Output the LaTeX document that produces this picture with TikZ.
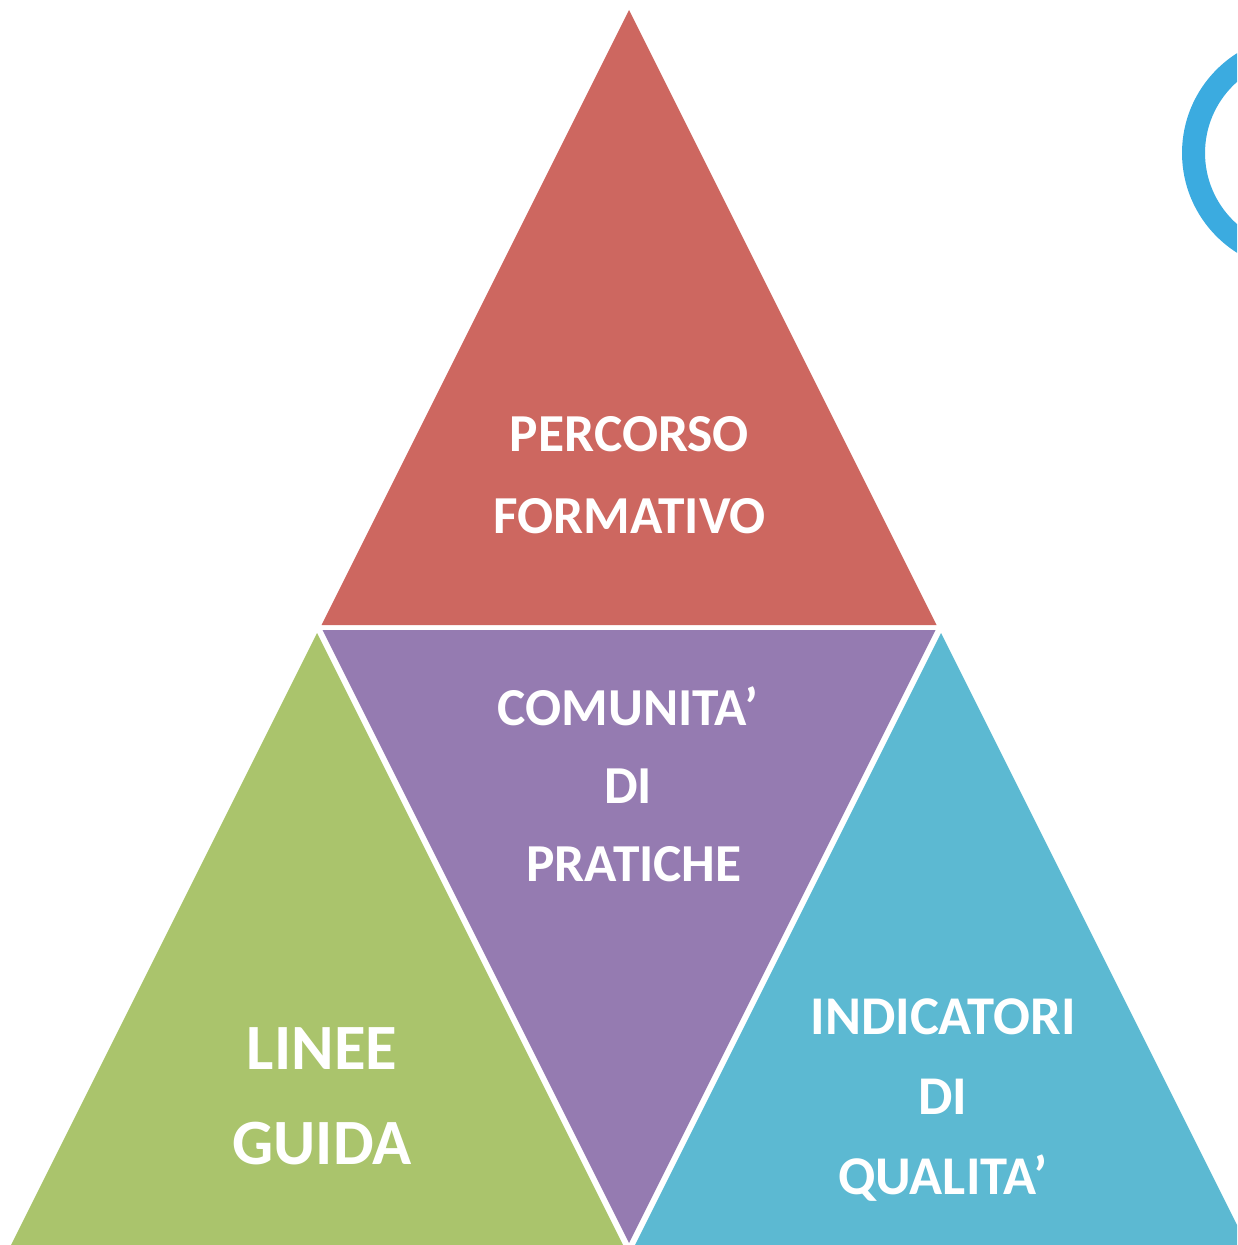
\documentclass[tikz,border=0pt]{standalone}
\usepackage{fontspec}
\setmainfont{Carlito}
\definecolor{percred}{RGB}{205, 103, 96}
\definecolor{compurple}{RGB}{149, 123, 177}
\definecolor{lineegreen}{RGB}{170, 196, 108}
\definecolor{indcyan}{RGB}{92, 185, 210}
\definecolor{ringblue}{RGB}{59, 171, 224}
\usetikzlibrary{positioning}

\tikzset{
  lbl/.style={text=white, align=center, inner sep=0pt, font=\bfseries}
}

\begin{document}
\begin{tikzpicture}[x=0.5pt, y=-0.5pt]
  \useasboundingbox (0, 0) rectangle (1237, 1245);
  \clip (0, 0) rectangle (1237, 1245);

  % Top triangle
  \fill[percred] (629, 10) -- (936.5, 625) -- (321.5, 625) -- cycle;
  % Inverted middle triangle
  \fill[compurple] (322.5, 630) -- (935.5, 630) -- (629, 1243) -- cycle;
  % Bottom left triangle
  \fill[lineegreen] (317, 633) -- (623, 1245) -- (11, 1245) -- cycle;
  % Bottom right triangle
  \fill[indcyan] (941, 633) -- (1247, 1245) -- (635, 1245) -- cycle;

  % Ring at the edge
  \draw[ringblue, line width=11.5pt] (1300, 153) circle[radius=53.25pt];

  % Labels
  \node[lbl, font=\bfseries\fontsize{26.7}{41}\selectfont] (percorso) at (629.5, 475) {PERCORSO\\FORMATIVO};
  \node[lbl, font=\bfseries\fontsize{26.7}{39}\selectfont] (comunita) at (628, 784) {COMUNITA’\\DI\\~PRATICHE};
  \node[lbl, font=\bfseries\fontsize{32.3}{47.5}\selectfont] (linee) at (322, 1096.5) {LINEE\\GUIDA};
  \node[lbl, font=\bfseries\fontsize{27.3}{40}\selectfont] (indicatori) at (943, 1100) {INDICATORI\\DI\\QUALITA’};
\end{tikzpicture}
\end{document}
